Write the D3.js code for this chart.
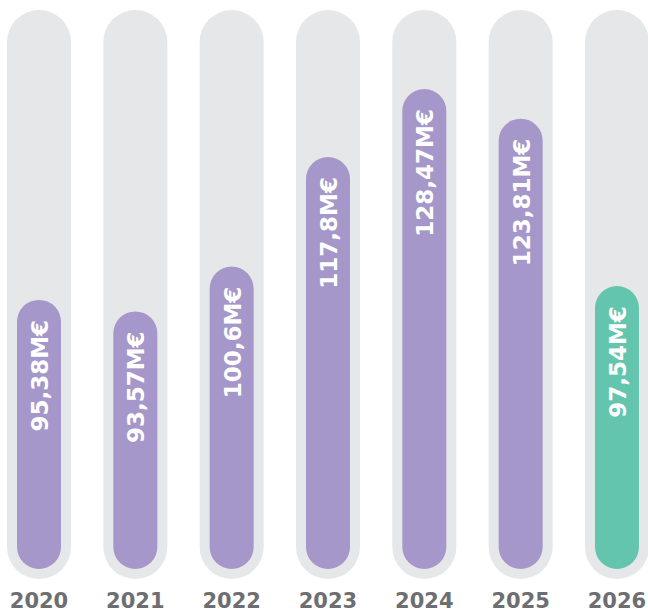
<!DOCTYPE html>
<html>
<head>
<meta charset="utf-8">
<script src="https://cdn.jsdelivr.net/npm/d3@7"></script>
<style>
  html, body { margin: 0; padding: 0; background: #fff; }
  svg { display: block; }
</style>
</head>
<body>
<svg id="svg_budget" width="648" height="614"></svg>
<script>
// budget per year, in M€
const years = ["2020", "2021", "2022", "2023", "2024", "2025", "2026"];
const amounts = [95.38, 93.57, 100.6, 117.8, 128.47, 123.81, 97.54];
const labels = ["95,38M€", "93,57M€", "100,6M€", "117,8M€", "128,47M€", "123,81M€", "97,54M€"];
const highlightYear = "2026";

let data = years.map((y, i) => ({year: y, amount: amounts[i], label: labels[i]}));

let svg = d3.select("#svg_budget");

let padding = {top: 10, left: 7, trackBottom: 579};
let inset = 10;
let step = 96.33, trackW = 64;

let xScale = d3.scaleBand()
    .domain(years)
    .range([padding.left, padding.left + step * (years.length - 1) + trackW])
    .paddingInner((step - trackW) / step)
    .paddingOuter(0);

// value axis does not start at zero
let yScale = d3.scaleLinear()
    .domain([53.15, 128.47])
    .range([padding.trackBottom - inset, padding.trackBottom - inset - 480]);

let barW = xScale.bandwidth() - 2 * inset;

// grey tracks
svg.append("g").attr("id", "tracks")
    .selectAll("rect")
    .data(data)
    .enter()
    .append("rect")
        .attr("x", d => xScale(d.year))
        .attr("y", padding.top)
        .attr("width", xScale.bandwidth())
        .attr("height", padding.trackBottom - padding.top)
        .attr("rx", xScale.bandwidth() / 2)
        .attr("ry", xScale.bandwidth() / 2)
        .style("fill", "#e6e7e9");

// bars
svg.append("g").attr("id", "bars")
    .selectAll("rect")
    .data(data)
    .enter()
    .append("rect")
        .attr("x", d => xScale(d.year) + inset)
        .attr("y", d => yScale(d.amount))
        .attr("width", barW)
        .attr("height", d => yScale.range()[0] - yScale(d.amount))
        .attr("rx", barW / 2)
        .attr("ry", barW / 2)
        .style("fill", d => d.year == highlightYear ? "#63c5ae" : "#a597c9");

// value labels, rotated
svg.append("g").attr("id", "values")
    .selectAll("text")
    .data(data)
    .enter()
    .append("text")
        .attr("transform", d => {
            let cx = xScale(d.year) + xScale.bandwidth() / 2 + 1;
            let cy = yScale(d.amount) + 20;
            return "translate(" + cx + "," + cy + ") rotate(-90)";
        })
        .attr("text-anchor", "end")
        .attr("dominant-baseline", "central")
        .attr("font-family", "'DejaVu Sans', sans-serif")
        .attr("font-weight", "bold")
        .attr("font-size", 23)
        .attr("fill", "#fff")
        .text(d => d.label);

// year labels
svg.append("g").attr("id", "years")
    .selectAll("text")
    .data(data)
    .enter()
    .append("text")
        .attr("x", d => xScale(d.year) + xScale.bandwidth() / 2)
        .attr("y", 608)
        .attr("text-anchor", "middle")
        .attr("font-family", "'DejaVu Sans', sans-serif")
        .attr("font-weight", "bold")
        .attr("font-size", 21)
        .attr("fill", "#6d6e71")
        .text(d => d.year);
</script>
</body>
</html>
